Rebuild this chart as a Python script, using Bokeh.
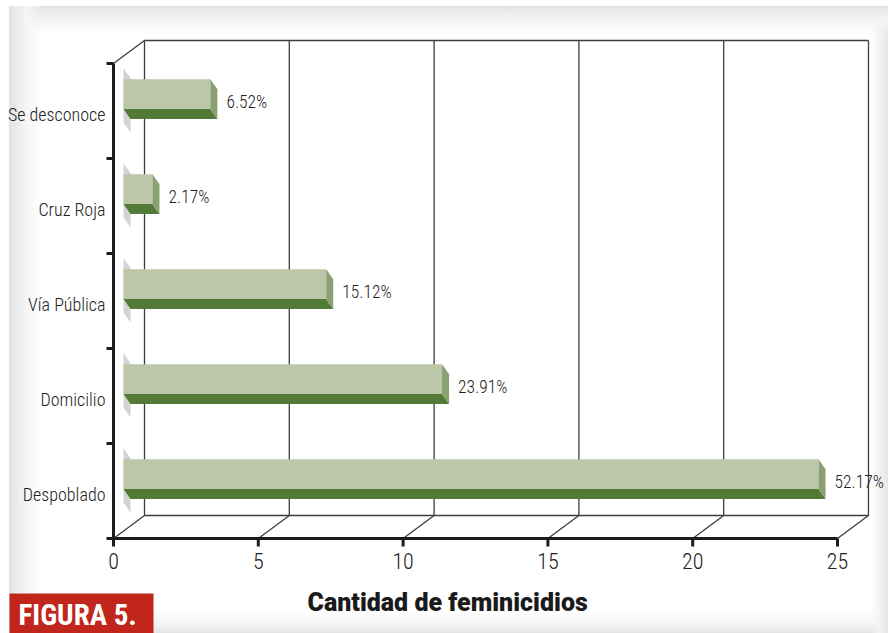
from bokeh.plotting import figure
from bokeh.models import Range1d
from bokeh.embed import file_html
from bokeh.resources import INLINE
from bokeh.core.properties import value

# Lugar del hallazgo (bottom band first)
categories = ["Despoblado", "Domicilio", "Vía Pública", "Cruz Roja", "Se desconoce"]
counts = [24, 11, 7, 1, 3]
pct_labels = ["52.17%", "23.91%", "15.12%", "2.17%", "6.52%"]
x_ticks = [0, 5, 10, 15, 20, 25]
x_tick_labels = ["0", "5", "10", "15", "20", "25"]
x_title = "Cantidad de feminicidios"
fig_label = "FIGURA 5."

W, H = 888, 633
LEFT, BOTTOM = 113, 95          # where the value axis and the category axis meet
PX_X = 28.96                    # pixels per feminicidio
PX_Y = 95.0                     # pixels per category band


def dx(px):
    return px / PX_X


def dy(px):
    return px / PX_Y


def sx(px):      # canvas pixel column -> data x
    return dx(px - LEFT)


def sy(py):      # canvas pixel row -> data y
    return dy(H - BOTTOM - py)


COND = "'Roboto Condensed Light', 'Roboto Condensed', 'DejaVu Sans Condensed', sans-serif"
COND_BOLD = "'Roboto Condensed', 'DejaVu Sans Condensed', sans-serif"
HEAVY = "'Roboto Black', 'Roboto', sans-serif"

FACE = "#bcc6a8"
BOTTOM_FACE = "#527a36"
SIDE_FACE = "#8aa070"
END_SHADE = "#d3d3d3"
WALL = "#3d3d3d"
AXIS = "#1c1c1c"
TEXT = "#222222"
RED = "#c1261d"

n = len(categories)
centers = [i + 0.5 for i in range(n)]
x_max = max(x_ticks)

# 3-D offsets
BDX, BDY = dx(31), dy(23)          # back wall
X0 = dx(10)                        # bar start
DDX, DDY = dx(7), -dy(10)          # bar depth
LO, HI = 0.02, 0.333               # bar front face inside its band

p = figure(
    width=W, height=H,
    x_range=Range1d(sx(0), sx(W)),
    y_range=Range1d(sy(H), sy(0)),
    min_border=0, toolbar_location=None, output_backend="svg", title=None,
    x_axis_location=None, y_axis_location=None,
)
p.xgrid.visible = False
p.ygrid.visible = False
p.outline_line_color = None
p.border_fill_color = None
p.background_fill_color = None
p.styles = {
    "background": (
        "linear-gradient(#ffffff, #ffffff) 0 0 / 100% 6px no-repeat, "
        "linear-gradient(to right, #ffffff 9px, #e3e3e3 9px, #f5f5f5 26px, rgba(255,255,255,0) 42px), "
        "linear-gradient(to bottom, #e3e3e3 6px, #f4f4f4 20px, rgba(255,255,255,0) 36px), "
        "linear-gradient(to left, #e6e6e6 0px, #f3f3f3 8px, rgba(255,255,255,0) 18px), "
        "linear-gradient(to top, #e4e4e4 0px, #f3f3f3 8px, rgba(255,255,255,0) 22px), "
        "#ffffff"
    )
}

# back wall and floor lines
wall_x = [t + BDX for t in x_ticks]
p.segment(x0=wall_x, y0=BDY, x1=wall_x, y1=n + BDY, line_color=WALL, line_width=1.3)
p.segment(x0=x_ticks, y0=0, x1=wall_x, y1=BDY, line_color=WALL, line_width=1.3)
p.segment(x0=[BDX, BDX], y0=[BDY, n + BDY], x1=[x_max + BDX] * 2, y1=[BDY, n + BDY],
          line_color=WALL, line_width=1.3)
p.segment(x0=[0], y0=[n], x1=[BDX], y1=[n + BDY], line_color=WALL, line_width=1.3)

# bars
shade_xs, shade_ys, bot_xs, bot_ys, side_xs, side_ys = [], [], [], [], [], []
for c, v in zip(centers, counts):
    x1 = X0 + v
    shade_xs.append([X0, X0 + DDX, X0 + DDX, X0])
    shade_ys.append([c + 0.45, c + 0.345, c - 0.226, c - 0.12])
    bot_xs.append([X0, x1, x1 + DDX, X0 + DDX])
    bot_ys.append([c + LO, c + LO, c + LO + DDY, c + LO + DDY])
    side_xs.append([x1, x1 + DDX, x1 + DDX, x1])
    side_ys.append([c + HI, c + HI + DDY, c + LO + DDY, c + LO])

p.patches(shade_xs, shade_ys, fill_color=END_SHADE, line_color=None)
p.quad(left=X0, right=[X0 + v for v in counts],
       bottom=[c + LO for c in centers], top=[c + HI for c in centers],
       fill_color=FACE, line_color=None)
p.patches(bot_xs, bot_ys, fill_color=BOTTOM_FACE, line_color=None)
p.patches(side_xs, side_ys, fill_color=SIDE_FACE, line_color=None)

p.text(x=[X0 + v + DDX + dx(9) for v in counts], y=[c + 0.09 for c in centers],
       text=pct_labels, text_font=value(COND), text_font_size="17.5px",
       text_color=TEXT, text_align="left", text_baseline="middle")

# value axis (front edge of the floor)
p.segment(x0=[0], y0=[0], x1=[x_max], y1=[0], line_color=AXIS, line_width=3)
p.segment(x0=x_ticks, y0=0, x1=x_ticks, y1=-dy(8), line_color=AXIS, line_width=3)
p.text(x=x_ticks, y=-dy(560.5 - (H - BOTTOM)), text=x_tick_labels, text_font=value(COND),
       text_font_size="22px", text_color=TEXT, text_align="center",
       text_baseline="middle")

# category axis
bounds = list(range(n + 1))
p.segment(x0=[0], y0=[0], x1=[0], y1=[n], line_color=AXIS, line_width=3)
p.segment(x0=-dx(7), y0=bounds, x1=0, y1=bounds, line_color=AXIS, line_width=3)
p.text(x=-dx(8), y=[c - 0.035 for c in centers], text=categories, text_font=value(COND),
       text_font_size="18px", text_color=TEXT, text_align="right",
       text_baseline="middle")

# axis title and figure tag
p.text(x=[sx(307)], y=[sy(601.5)], text=[x_title], text_font=value(HEAVY),
       text_font_style="bold", text_font_size="25px", text_color="#1a1a1a",
       text_align="left", text_baseline="middle")
p.quad(left=[sx(9)], right=[sx(153)], top=[sy(593)], bottom=[sy(H)],
       fill_color=RED, line_color=None)
p.text(x=[sx(18)], y=[sy(614.5)], text=[fig_label], text_font=value(COND_BOLD),
       text_font_style="bold", text_font_size="29px", text_color="#ffffff",
       text_align="left", text_baseline="middle")

open("out.html", "w").write(file_html(p, INLINE))
